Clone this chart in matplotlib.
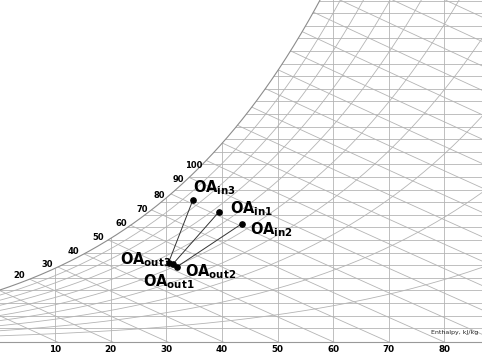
import numpy as np
import matplotlib.pyplot as plt
from matplotlib.patches import Polygon

P = 95.0  # kPa, chart pressure

# state points: dry bulb (C), humidity ratio (g/kg)
oa_in_t = [19.7, 21.8, 17.4]
oa_in_w = [10.2, 9.3, 11.2]
oa_out_t = [15.6, 16.0, 15.2]
oa_out_w = [6.1, 5.9, 6.2]
in_names = ['in1', 'in2', 'in3']
out_names = ['out1', 'out2', 'out3']

# grid
db_lines = [5, 10, 15, 20, 25, 30, 35, 40]
db_labels = ['10', '20', '30', '40', '50', '60', '70', '80']
w_lines = list(range(1, 28))
h_lines = list(range(5, 115, 5))
rh_lines = [0.1, 0.2, 0.3, 0.4, 0.5, 0.6, 0.7, 0.8, 0.9]

# labels along the saturation curve
sat_labels = ['20', '30', '40', '50', '60', '70', '80', '90', '100']
sat_label_t = [1.75, 4.25, 6.65, 8.9, 10.95, 12.8, 14.4, 16.1, 17.45]


def psat(t):
    return 0.61094 * np.exp(17.625 * t / (t + 243.04))


def w_rh(t, rh):
    pv = rh * psat(t)
    return 622.0 * pv / (P - pv)


def w_h(t, h):
    return 1000.0 * (h - 1.006 * t) / (2501.0 + 1.86 * t)


xmin, xmax = 0.045, 43.39
ymin, ymax = -0.09, 27.05

fig = plt.figure(figsize=(4.82, 3.53), dpi=100)
ax = fig.add_axes([0, 11 / 353, 1, 342 / 353])
ax.set_xlim(xmin, xmax)
ax.set_ylim(ymin, ymax)

tt = np.linspace(-2, 31, 400)
ws = w_rh(tt, 1.0)
verts = list(zip(tt, ws)) + [(31, 80), (60, 80), (60, -5), (-2, -5)]
clip = Polygon(verts, closed=True, transform=ax.transData)

grid_kw = dict(color='#b4b4b4', lw=0.6)
arts = []
arts.append(ax.hlines(w_lines, -2, 60, **grid_kw))
arts.append(ax.vlines(db_lines, -1, 80, **grid_kw))
tl = np.linspace(-2, 60, 300)
for h in h_lines:
    arts += ax.plot(tl, w_h(tl, h), **grid_kw)
for rh in rh_lines:
    arts += ax.plot(tl, w_rh(tl, rh), **grid_kw)
for a in arts:
    a.set_clip_path(clip)

ax.plot(tt, ws, color='#8c8c8c', lw=0.8)

for lab, t in zip(sat_labels, sat_label_t):
    ax.annotate(lab, (t, w_rh(t, 1.0)), xytext=(0, 8), textcoords='offset pixels',
                ha='center', va='center', fontsize=6, fontweight='bold')

# process lines and points
for i in range(3):
    ax.plot([oa_in_t[i], oa_out_t[i]], [oa_in_w[i], oa_out_w[i]], color='#333333', lw=0.7)
ax.plot(oa_in_t + oa_out_t, oa_in_w + oa_out_w, 'o', color='black', ms=3.8, zorder=5)

offsets = {'in1': (11, -1), 'in2': (8, -11), 'in3': (0, 7),
           'out1': (-30, -22), 'out2': (8, -10), 'out3': (-49, -2)}
for name, t, w in zip(in_names + out_names, oa_in_t + oa_out_t, oa_in_w + oa_out_w):
    ax.annotate(r'$\mathbf{OA_{%s}}$' % name, (t, w), xytext=offsets[name],
                textcoords='offset pixels', ha='left', va='baseline', fontsize=10.5)

ax.text(0.992, 0.02, 'Enthalpy, kJ/kg', transform=ax.transAxes, ha='right', va='bottom',
        fontsize=4.5, color='#222222')

ax.set_xticks(db_lines)
ax.set_xticklabels(db_labels, fontsize=6.3, fontweight='bold')
ax.tick_params(axis='x', length=0, pad=2)
ax.set_yticks([])
for s in ['left', 'top', 'right']:
    ax.spines[s].set_visible(False)
ax.spines['bottom'].set_color('#999999')
ax.spines['bottom'].set_linewidth(0.8)

fig.savefig('out.png', dpi=100)
